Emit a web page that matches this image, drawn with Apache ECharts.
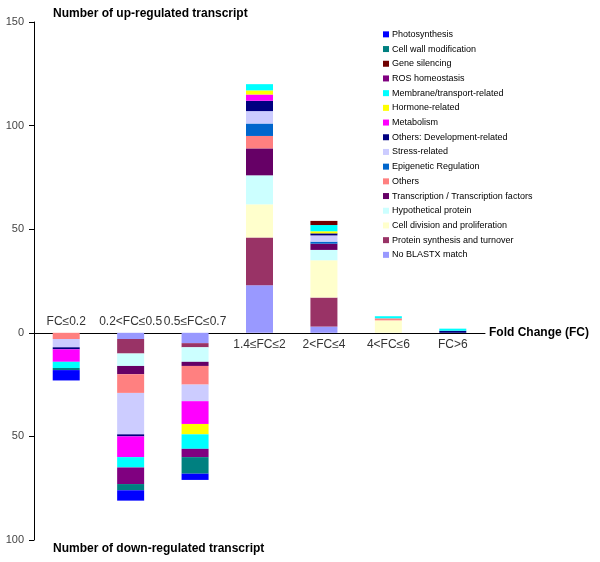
<!DOCTYPE html>
<html>
<head>
<meta charset="utf-8">
<script src="https://cdn.jsdelivr.net/npm/echarts@6/dist/echarts.min.js"></script>
<style>
html,body{margin:0;padding:0;background:#fff;}
#chart{width:600px;height:562px;}
</style>
</head>
<body>
<div id="chart"></div>
<script>
// Categories (fold-change classes)
var categories = ["FC≤0.2", "0.2<FC≤0.5", "0.5≤FC≤0.7", "1.4≤FC≤2", "2<FC≤4", "4<FC≤6", "FC>6"];
// Y tick labels shown as absolute values
var yTicks = [-100, -50, 0, 50, 100, 150];

// Series values (negative = down-regulated), stack order bottom -> top
var noBlastx       = [0, -3, -5, 23, 3, 0, 0];
var proteinSynth   = [0, -7, -2, 23, 14, 0, 0];
var cellDivision   = [0, 0, 0, 16, 18, 6, 0];
var hypothetical   = [0, -6, -7, 14, 5, 0, 0];
var transcription  = [0, -4, -2, 13, 3, 0, 0];
var others         = [-3, -9, -9, 6, 0, 1, 0];
var epigenetic     = [0, 0, 0, 6, 1, 0, 0];
var stress         = [-4, -20, -8, 6, 3, 0, 0];
var development    = [-1, -1, 0, 5, 1, 0, 1];
var metabolism     = [-6, -10, -11, 3, 0, 0, 0];
var hormone        = [0, 0, -5, 2, 1, 0, 0];
var membrane       = [-3, -5, -7, 3, 3, 1, 1];
var ros            = [0, -8, -4, 0, 0, 0, 0];
var geneSilencing  = [0, 0, 0, 0, 2, 0, 0];
var cellWall       = [-1, -3, -8, 0, 0, 0, 0];
var photosynthesis = [-5, -5, -3, 0, 0, 0, 0];

var seriesNames = ["No BLASTX match", "Protein synthesis and turnover", "Cell division and proliferation",
  "Hypothetical protein", "Transcription / Transcription factors", "Others", "Epigenetic Regulation",
  "Stress-related", "Others: Development-related", "Metabolism", "Hormone-related",
  "Membrane/transport-related", "ROS homeostasis", "Gene silencing", "Cell wall modification", "Photosynthesis"];
var seriesData = [noBlastx, proteinSynth, cellDivision, hypothetical, transcription, others, epigenetic,
  stress, development, metabolism, hormone, membrane, ros, geneSilencing, cellWall, photosynthesis];
var seriesColors = ["#9999FF", "#993366", "#FFFFCC", "#CCFFFF", "#660066", "#FF8080", "#0066CC",
  "#CCCCFF", "#000080", "#FF00FF", "#FFFF00", "#00FFFF", "#800080", "#700000", "#008080", "#0000FF"];

var font = "'Liberation Sans', Arial, sans-serif";
var gridTop = 22, gridBottom = 22, chartH = 562;
var yMin = yTicks[0], yMax = yTicks[yTicks.length - 1];
var plotH = chartH - gridTop - gridBottom;
// offsets that move the category axes onto the zero line
var topOffset = -plotH * (yMax / (yMax - yMin));
var bottomOffset = -plotH * (-yMin / (yMax - yMin));

var series = seriesNames.map(function (n, i) {
  return {
    name: n, type: 'bar', stack: 'all', xAxisIndex: 0, yAxisIndex: 0,
    barWidth: 27, data: seriesData[i],
    itemStyle: { color: seriesColors[i] }
  };
});

var chart = echarts.init(document.getElementById('chart'), null, { renderer: 'canvas' });
chart.setOption({
  backgroundColor: '#fff',
  animation: false,
  title: [
    { text: 'Number of up-regulated transcript', left: 48, top: 3,
      textStyle: { fontFamily: font, fontSize: 12, fontWeight: 'bold', color: '#000' } },
    { text: 'Number of down-regulated transcript', left: 48, top: 538,
      textStyle: { fontFamily: font, fontSize: 12, fontWeight: 'bold', color: '#000' } }
  ],
  legend: {
    orient: 'vertical', left: 383, top: 27, padding: 0, itemGap: 0,
    itemWidth: 6, itemHeight: 6, icon: 'rect',
    data: seriesNames.slice().reverse(),
    textStyle: { fontFamily: font, fontSize: 9, color: '#000', lineHeight: 14.7, padding: [0, 0, 0, -2] },
    selectedMode: false
  },
  grid: { left: 34, right: 115, top: gridTop, bottom: gridBottom, containLabel: false },
  xAxis: [
    {
      type: 'category', data: categories, position: 'bottom', offset: bottomOffset,
      name: 'Fold Change (FC)', nameLocation: 'end', nameGap: 4,
      nameTextStyle: { fontFamily: font, fontSize: 12, fontWeight: 'bold', color: '#000', align: 'left', verticalAlign: 'middle' },
      axisLine: { onZero: false, lineStyle: { color: '#000', width: 1 } },
      axisTick: { show: false },
      axisLabel: { interval: 0, margin: 6, fontFamily: font, fontSize: 12, color: '#333',
        formatter: function (v, i) { return i >= 3 ? v : ''; } }
    },
    {
      type: 'category', data: categories, position: 'top', offset: topOffset,
      axisLine: { show: false, onZero: false },
      axisTick: { show: false },
      axisLabel: { interval: 0, margin: 5, fontFamily: font, fontSize: 12, color: '#333',
        formatter: function (v, i) { return i < 3 ? v : ''; } }
    }
  ],
  yAxis: {
    type: 'value', min: yMin, max: yMax, interval: 50,
    axisLine: { show: true, lineStyle: { color: '#000', width: 1 } },
    axisTick: { show: true, length: 5, lineStyle: { color: '#000' } },
    splitLine: { show: false },
    axisLabel: { margin: 10, fontFamily: font, fontSize: 11, color: '#444',
      formatter: function (v) { return String(Math.abs(v)); } }
  },
  series: series
});
</script>
</body>
</html>
